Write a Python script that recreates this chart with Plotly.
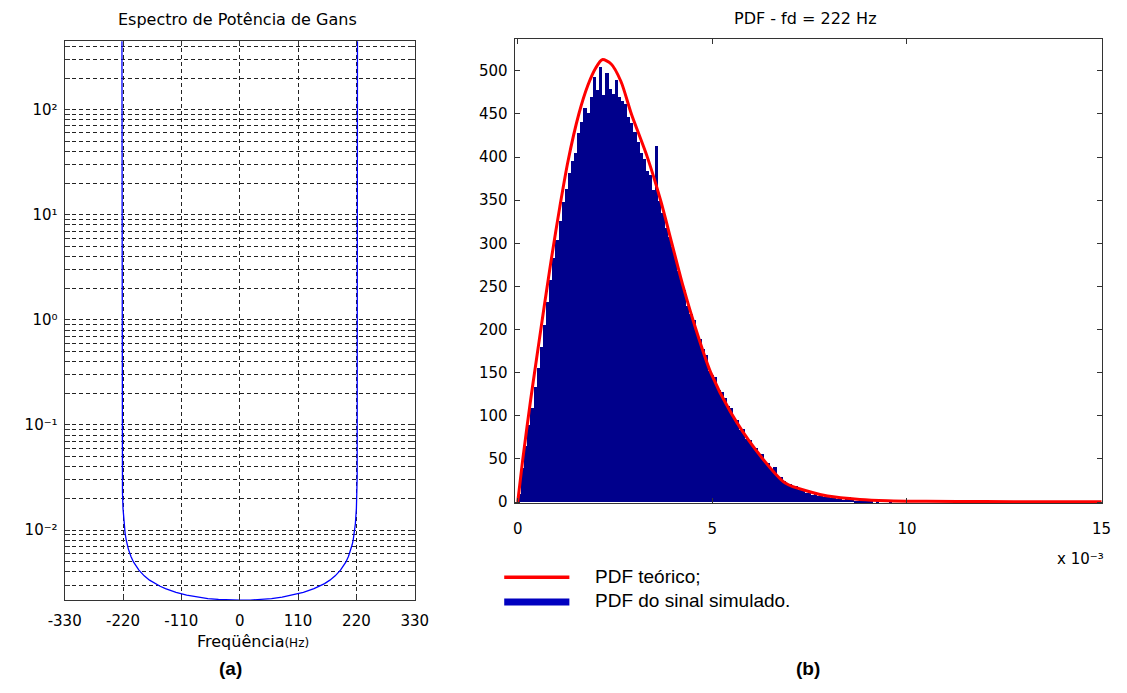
import plotly.graph_objects as go

# ---------------- Left panel: Gans power spectrum ----------------
freq_hz = [-222, -221.5, -221, -220, -218, -216, -214, -212, -210, -205, -200,
           -190, -180, -170, -160, -150, -140, -120, -100, -80, -60, -40, -20, 0,
           20, 40, 60, 80, 100, 120, 140, 150, 160, 170, 180, 190,
           200, 205, 210, 212, 214, 216, 218, 220, 221, 221.5, 222]
gans_power = [450, 0.0321, 0.0227, 0.0161, 0.0114, 0.00931, 0.00808, 0.00725, 0.00663, 0.00560, 0.00495,
              0.00416, 0.00367, 0.00334, 0.00310, 0.00292, 0.00277, 0.00256, 0.00241, 0.00230, 0.00223, 0.00219, 0.00216, 0.00215,
              0.00216, 0.00219, 0.00223, 0.00230, 0.00241, 0.00256, 0.00277, 0.00292, 0.00310, 0.00334, 0.00367, 0.00416,
              0.00495, 0.00560, 0.00663, 0.00725, 0.00808, 0.00931, 0.0114, 0.0161, 0.0227, 0.0321, 450]
freq_ticks = [-330, -220, -110, 0, 110, 220, 330]
freq_labels = ["-330", "-220", "-110", "0", "110", "220", "330"]
decade_vals = [0.01, 0.1, 1, 10, 100]
decade_labels = ["10\u207b\u00b2", "10\u207b\u00b9", "10\u2070", "10\u00b9", "10\u00b2"]

# ---------------- Right panel: PDF (x in units of 1e-3) ----------------
pdf_x = [0, 0.125, 0.33, 0.48, 0.625, 0.75, 0.875, 1.08, 1.29, 1.57, 1.8, 2.0, 2.17, 2.4,
         2.65, 2.92, 3.33, 3.67, 3.96, 4.25, 4.58, 4.96, 5.46, 6.125, 6.875, 7.5, 7.96,
         8.79, 9.5, 10.5, 12, 13.5, 15]
pdf_teorico = [0, 48, 118, 165, 210, 248, 285, 342, 395, 450, 483, 503, 513, 508,
               488, 450, 400, 350, 300, 250, 200, 150, 105, 60, 22, 12, 7,
               3, 1.5, 0.8, 0.5, 0.4, 0.3]

bin_width = 0.08
hist_counts = [10, 40, 66, 90, 110, 134, 156, 180, 206, 232,
               258, 284, 304, 326, 348, 364, 382, 396, 405, 428,
               441, 458, 452, 470, 494, 478, 505, 472, 498, 480,
               474, 490, 470, 466, 462, 447, 440, 430, 418, 405,
               398, 385, 380, 362, 414, 350, 336, 318, 308, 296,
               284, 268, 257, 246, 228, 219, 212, 194, 190, 178,
               171, 152, 148, 145, 130, 128, 121, 112, 110, 97,
               96, 84, 85, 74, 73, 64, 63, 55, 56, 47,
               46, 39, 41, 30, 29, 25, 22, 21, 18, 19,
               14, 15, 11, 12, 9, 10, 7, 8, 6, 6,
               5, 6, 4, 5, 3, 4, 6, 3, 2, 2,
               1, 2, 1, 1, 0, 1, 0, 0, 0, 1]
hist_centers = [bin_width / 2 + i * bin_width for i in range(len(hist_counts))]
pdf_ticks = [0, 5, 10, 15]
count_ticks = [0, 50, 100, 150, 200, 250, 300, 350, 400, 450, 500]

W, H = 1127, 693
MFONT = "DejaVu Sans, sans-serif"
AFONT = "Liberation Sans, Arial, sans-serif"

def px(x):
    return x / W

def py(y):
    return 1 - y / H

fig = go.Figure()
fig.add_trace(go.Scatter(x=freq_hz, y=gans_power, mode="lines",
                         line=dict(color="#0000FF", width=1.3),
                         xaxis="x", yaxis="y", showlegend=False))
fig.add_trace(go.Bar(x=hist_centers, y=hist_counts, width=bin_width * 1.06,
                     marker=dict(color="#00008C", line=dict(width=0)),
                     xaxis="x2", yaxis="y2", showlegend=False))
fig.add_trace(go.Scatter(x=pdf_x, y=pdf_teorico, mode="lines",
                         line=dict(color="#FF0000", width=3, shape="spline", smoothing=0.8),
                         xaxis="x2", yaxis="y2", showlegend=False))

# log minor gridlines (2..9 in each decade)
minor_vals = []
for d in [-3, -2, -1, 0, 1, 2]:
    for m in range(2, 10):
        minor_vals.append(m * 10 ** d)

GRID = dict(showgrid=True, gridcolor="#222222", griddash="4px,3px", gridwidth=1)
axis_common = dict(showline=True, linecolor="#333333", linewidth=1, mirror="ticks",
                   ticks="inside", ticklen=5, tickcolor="#333333", zeroline=False,
                   tickfont=dict(family=MFONT, size=15, color="#000"))

fig.update_layout(
    width=W, height=H, autosize=False,
    margin=dict(l=0, r=0, t=0, b=0),
    paper_bgcolor="white", plot_bgcolor="white",
    bargap=0,
    xaxis=dict(domain=[px(49), px(409)], range=[-330, 330], tickvals=freq_ticks,
               ticktext=freq_labels, ticklabelstandoff=7,
               anchor="y", **GRID, **axis_common),
    yaxis=dict(domain=[py(607), py(41.7)], type="log", range=[-2.665, 2.651],
               tickvals=decade_vals, ticktext=decade_labels, ticklabelstandoff=3,
               minor=dict(tickmode="array", tickvals=minor_vals, ticks="inside", ticklen=5,
                          tickcolor="#333333", showgrid=True, gridcolor="#222222",
                          griddash="4px,3px", gridwidth=1),
               anchor="x", **GRID, **axis_common),
    xaxis2=dict(domain=[px(511.7), px(1116)], range=[-0.08, 15.02], tickvals=pdf_ticks,
                showgrid=False, anchor="y2", ticklabelstandoff=12, **axis_common),
    yaxis2=dict(domain=[py(509.3), py(39)], range=[-1.6, 537.5], tickvals=count_ticks,
                showgrid=False, anchor="x2", ticklabelstandoff=3, **axis_common),
)

def ann(text, x, y, size=15, xanchor="center", bold=False, family=MFONT):
    if bold:
        text = "<b>" + text + "</b>"
    fig.add_annotation(text=text, x=px(x), y=py(y), xref="paper", yref="paper",
                       xanchor=xanchor, yanchor="middle", showarrow=False,
                       font=dict(family=family, size=size, color="#000"))

ann("Espectro de Potência de Gans", 227, 19.5, 16)
ann("PDF - fd = 222 Hz", 811, 18.5, 16)
ann("Freqüência<span style='font-size:12px'>(Hz)</span>", 243, 649, 16)
ann("(a)", 220, 676, 19, bold=True, family=AFONT)
ann("(b)", 813, 676, 19, bold=True, family=AFONT)
ann("x 10\u207b\u00b3", 1094, 566, 15)
ann("PDF teórico;", 592, 583, 19, xanchor="left", family=AFONT)
ann("PDF do sinal simulado.", 592, 608, 19, xanchor="left", family=AFONT)

fig.add_shape(type="line", xref="paper", yref="paper", x0=px(501), x1=px(568), y0=py(584), y1=py(584),
              line=dict(color="#FF0000", width=3.5))
fig.add_shape(type="line", xref="paper", yref="paper", x0=px(501), x1=px(568), y0=py(609), y1=py(609),
              line=dict(color="#0000C0", width=7))

fig.write_html("out.html")
